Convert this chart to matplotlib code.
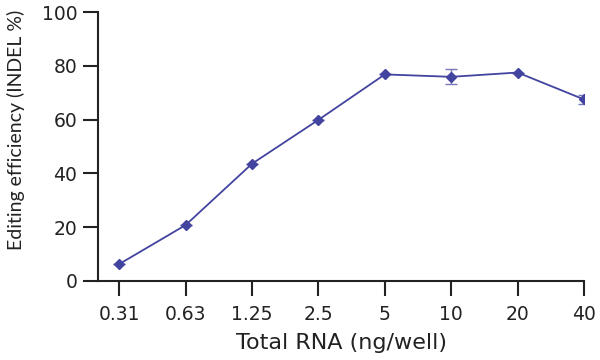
import matplotlib
matplotlib.use("Agg")
import matplotlib.pyplot as plt

# Data
rna_labels = ["0.31", "0.63", "1.25", "2.5", "5", "10", "20", "40"]
efficiency = [6.3, 20.8, 43.6, 59.9, 76.8, 75.9, 77.5, 67.5]
errors = [0.0, 0.0, 0.0, 0.0, 0.0, 2.8, 0.0, 1.7]

color = "#4343a0"
ink = "#222222"
plt.rcParams['font.family'] = ['DejaVu Sans']

fig = plt.figure(figsize=(6, 3.6), dpi=100)
ax = fig.add_axes([98 / 600, 1 - 281 / 360, (584 - 98) / 600, (281 - 12) / 360])

x = list(range(len(rna_labels)))
ax.errorbar(x, efficiency, yerr=errors, color=color, marker="D", markersize=5,
            linewidth=1.3, capsize=4, elinewidth=1, capthick=1, ecolor="#7777bb")

ax.set_xlim(-0.32, len(rna_labels) - 1)
ax.set_ylim(0, 100)
ax.set_xticks(x)
ax.set_xticklabels(rna_labels)
ax.set_yticks(range(0, 101, 20))

for side in ["top", "right"]:
    ax.spines[side].set_visible(False)
for side in ["left", "bottom"]:
    ax.spines[side].set_linewidth(1.5)
    ax.spines[side].set_color(ink)

ax.tick_params(axis="both", length=11, width=1.5, color=ink, labelsize=13.5, labelcolor=ink)
ax.tick_params(axis="x", pad=6)
ax.tick_params(axis="y", pad=4)

ax.set_xlabel("Total RNA (ng/well)", fontsize=16, color=ink, labelpad=7)
ax.set_ylabel("Editing efficiency (INDEL %)", fontsize=14, color=ink,
              family=['Lato', 'DejaVu Sans'])
ax.yaxis.set_label_coords(-0.15, 0.56)

fig.savefig("out.png", dpi=100)
